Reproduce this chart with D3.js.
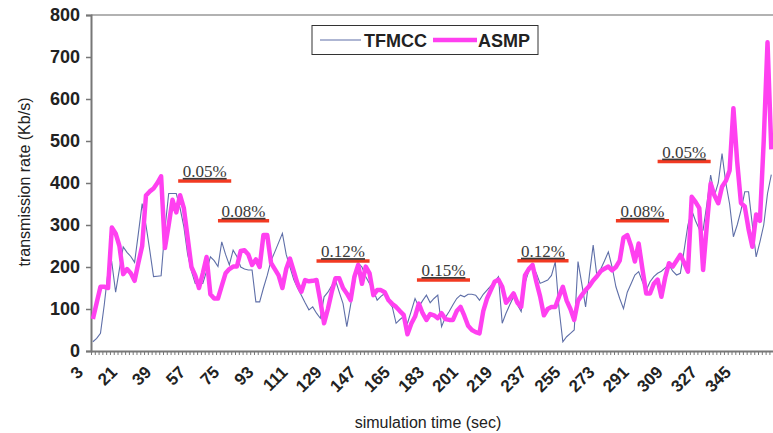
<!DOCTYPE html>
<html><head><meta charset="utf-8">
<script src="https://cdn.jsdelivr.net/npm/d3@7"></script>
<style>
body{margin:0;background:#fff;}
svg{display:block;}
text{font-family:"Liberation Sans",Arial,sans-serif;}
</style></head>
<body><svg id="c" width="773" height="433"></svg>
<script>
// time (sec) of each sample: 3,5,...,361
const times = d3.range(3, 362, 2);
const asmp = [
76,115,153,153,150,294,280,250,183,195,
185,167,210,250,370,380,387,400,416,245,
300,360,330,371,340,270,200,180,150,185,
224,135,125,125,155,185,195,201,201,238,
240,230,205,218,200,276,276,210,195,180,
150,195,220,190,160,141,169,166,167,169,
120,66,100,140,173,173,150,137,121,177,
205,160,201,185,133,145,145,140,121,112,
105,95,86,40,65,82,113,90,74,88,
85,78,90,76,74,74,95,105,84,60,
50,45,42,95,125,145,165,170,153,115,
125,137,115,105,180,195,205,165,130,85,
100,105,105,130,153,120,100,74,120,133,
145,155,168,178,190,196,201,192,200,215,
270,276,250,213,256,195,137,137,160,170,
129,175,209,201,215,229,210,189,367,355,
340,193,300,399,370,352,391,405,430,578,
450,352,344,290,248,325,310,500,735,480];
const tfmcc = [
22,30,42,110,190,210,140,195,248,235,
225,211,280,351,300,240,177,178,179,290,
375,375,375,340,296,230,190,161,161,161,
190,224,215,201,260,230,205,240,225,200,
195,193,193,117,117,150,180,215,236,258,
280,230,200,170,150,133,115,98,105,90,
78,129,140,155,169,140,113,58,110,161,
209,200,177,160,145,121,130,137,117,105,
66,75,82,66,95,125,105,120,133,115,
125,133,58,80,94,110,125,133,129,135,
135,133,121,135,145,155,165,177,66,90,
110,129,110,94,161,190,201,185,161,165,
169,180,212,100,22,34,42,50,213,160,
105,180,252,177,195,215,236,200,153,125,
101,140,160,181,189,165,145,165,177,185,
190,198,205,190,181,185,240,300,335,310,
290,288,350,419,370,400,470,400,350,272,
300,335,379,379,300,224,260,300,375,420];
const xLabels = d3.range(3, 346, 18);
const yTicks = [0,100,200,300,400,500,600,700,800];
// loss-rate annotations
const lossLabels = ["0.05%","0.08%","0.12%","0.15%","0.12%","0.08%","0.05%"];
const lossStart = [48,69,121,174,227,279,301];
const lossEnd   = [76,96,149,202,254,307,329];
const lossLevel = [405,310,214,169,215,310,451];
const seriesNames = ["TFMCC","ASMP"];

const svg = d3.select("#c");
const L = 91, R = 773.2, T = 15, B = 351;
const x = d3.scaleLinear().domain([2, 362]).range([L, R]);
const y = d3.scaleLinear().domain([0, 800]).range([B, T]);

// frame top
svg.append("line").attr("x1",L).attr("x2",R+5).attr("y1",T).attr("y2",T)
  .attr("stroke","#999").attr("stroke-width",1.5);

// y axis
const ya = svg.append("g").attr("transform",`translate(${L},0)`)
  .call(d3.axisLeft(y).tickValues(yTicks).tickSize(5).tickPadding(6));
ya.select(".domain").attr("stroke","#777").attr("stroke-width",2);
ya.selectAll(".tick line").attr("stroke","#777").attr("stroke-width",1.5);
ya.selectAll("text").attr("font-size",18).attr("font-weight","bold").attr("fill","#222")
  .style("font-family","'Liberation Sans',Arial,sans-serif");

// x axis (minor ticks between samples)
const xa = svg.append("g").attr("transform",`translate(0,${B})`)
  .call(d3.axisBottom(x).tickValues(d3.range(2, 363, 2)).tickSize(4).tickFormat(""));
xa.select(".domain").attr("stroke","#777").attr("stroke-width",2).attr("d",`M${L},0.5H${R+5}`);
xa.selectAll(".tick line").attr("stroke","#777").attr("stroke-width",1);

svg.append("g").selectAll("text").data(xLabels).join("text")
  .attr("transform", d => `translate(${x(d)-13},${369}) rotate(-45)`)
  .attr("text-anchor","end").attr("dy","0.35em")
  .attr("font-size",17).attr("font-weight","bold").attr("fill","#222")
  .text(d => d);

// titles
svg.append("text").attr("transform","translate(24,182) rotate(-90)")
  .attr("text-anchor","middle").attr("dy","0.35em").attr("font-size",16).attr("fill","#222")
  .text("transmission rate (Kb/s)");
svg.append("text").attr("x",428).attr("y",428).attr("text-anchor","middle")
  .attr("font-size",16).attr("fill","#222").text("simulation time (sec)");

// lines
const line = d3.line().x((d,i) => x(times[i])).y(d => y(d));
svg.append("path").datum(tfmcc).attr("d",line).attr("fill","none")
  .attr("stroke","#5f6fa8").attr("stroke-width",1.1);
svg.append("path").datum(asmp).attr("d",line).attr("fill","none")
  .attr("stroke","#ff40f0").attr("stroke-width",4.5).attr("stroke-linejoin","round");

// loss annotations
const ann = svg.append("g");
lossLabels.forEach((lab,i) => {
  ann.append("line").attr("x1",x(lossStart[i])).attr("x2",x(lossEnd[i]))
    .attr("y1",y(lossLevel[i])).attr("y2",y(lossLevel[i]))
    .attr("stroke","#f23a22").attr("stroke-width",3.5);
  ann.append("text").attr("x",(x(lossStart[i])+x(lossEnd[i]))/2).attr("y",y(lossLevel[i])-4)
    .attr("text-anchor","middle").attr("font-size",17).attr("fill","#3a3a3a")
    .style("font-family","'Liberation Serif','Times New Roman',serif")
    .style("text-decoration","underline").text(lab);
});

// legend
const lg = svg.append("g");
lg.append("rect").attr("x",312).attr("y",25.5).attr("width",226).attr("height",29)
  .attr("fill","#fff").attr("stroke","#333").attr("stroke-width",1);
lg.append("line").attr("x1",320).attr("x2",361).attr("y1",40).attr("y2",40)
  .attr("stroke","#5f6fa8").attr("stroke-width",1.1);
lg.append("text").attr("x",364).attr("y",46.5).attr("font-size",18).attr("font-weight","bold")
  .attr("fill","#222").text(seriesNames[0]);
lg.append("line").attr("x1",433).attr("x2",477).attr("y1",40).attr("y2",40)
  .attr("stroke","#ff40f0").attr("stroke-width",4.5);
lg.append("text").attr("x",478).attr("y",46.5).attr("font-size",18).attr("font-weight","bold")
  .attr("fill","#222").text(seriesNames[1]);
</script></body></html>
